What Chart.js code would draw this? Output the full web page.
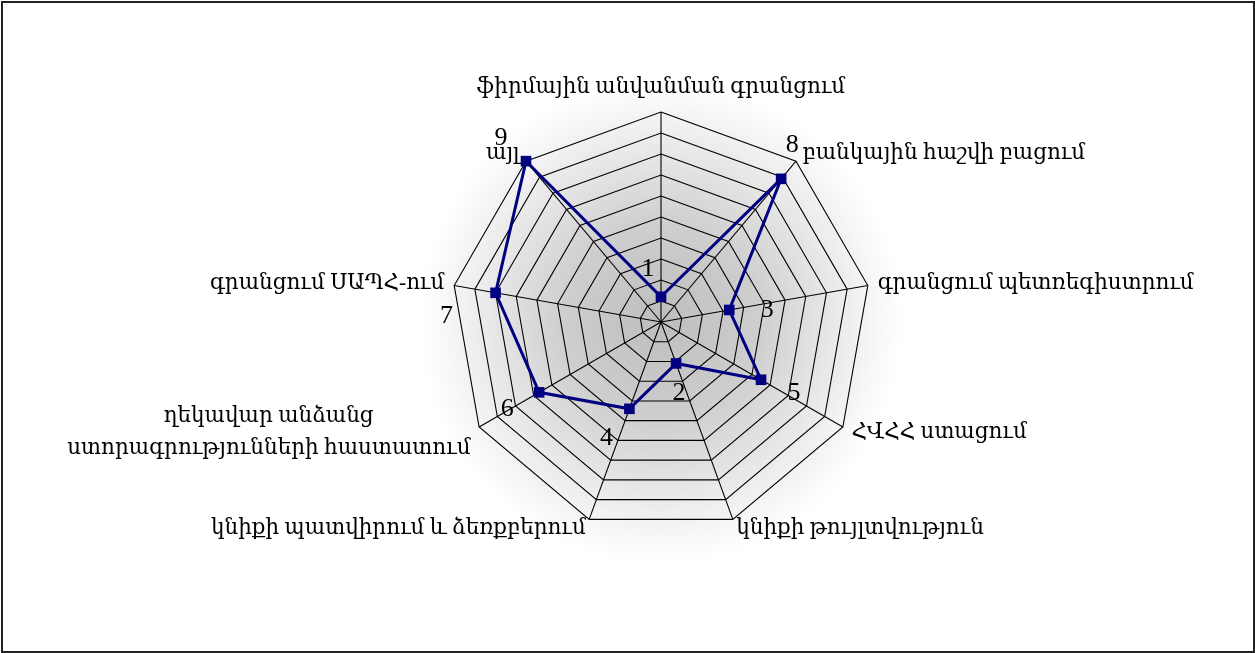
<!DOCTYPE html>
<html>
<head>
<meta charset="utf-8">
<script src="https://cdn.jsdelivr.net/npm/chart.js@4"></script>
<style>
  html, body { margin: 0; padding: 0; background: #fff; }
  #wrap { position: relative; width: 1255px; height: 653px; }
</style>
</head>
<body>
<div id="wrap"><canvas id="radar"></canvas></div>
<script>
// --- DATA ---
const categories = [
  'ֆիրմային անվանման գրանցում',
  'բանկային հաշվի բացում',
  'գրանցում պետռեգիստրում',
  'ՀՎՀՀ ստացում',
  'կնիքի թույլտվություն',
  'կնիքի պատվիրում և ձեռքբերում',
  ['ղեկավար անձանց', 'ստորագրությունների հաստատում'],
  'գրանցում ՍԱՊՀ-ում',
  'այլ'
];
const values = [1.2, 8.9, 3.3, 5.5, 2.1, 4.4, 6.7, 8.0, 10];
const ranks = ['1', '8', '3', '5', '2', '4', '6', '7', '9'];

// --- STYLE ---
const FONT = '"Liberation Serif", "DejaVu Serif", serif';
const NAVY = '#000080';
// where each rank number sits relative to its marker
const rankNudge = [[-13, -28], [11, -34], [38, 0], [33, 13], [3, 30], [-23, 29], [-32, 17], [-49, 23], [-25, -23]];

const backdrop = {
  id: 'backdrop',
  beforeDraw(chart) {
    const { ctx, width, height } = chart;
    const r = chart.scales.r;
    ctx.save();
    ctx.fillStyle = '#fff';
    ctx.fillRect(0, 0, width, height);
    const R = r.drawingArea * 1.15;
    const g = ctx.createRadialGradient(r.xCenter, r.yCenter, 0, r.xCenter, r.yCenter, R);
    g.addColorStop(0, '#bdbdbd');
    g.addColorStop(0.4, '#cecece');
    g.addColorStop(0.72, '#e9e9e9');
    g.addColorStop(0.9, '#f8f8f8');
    g.addColorStop(1, '#ffffff');
    ctx.fillStyle = g;
    ctx.beginPath();
    ctx.arc(r.xCenter, r.yCenter, R, 0, Math.PI * 2);
    ctx.fill();
    ctx.restore();
  },
  afterDraw(chart) {
    const { ctx, width, height } = chart;
    ctx.save();
    ctx.strokeStyle = '#222';
    ctx.lineWidth = 2;
    ctx.strokeRect(2, 2, width - 3, height - 3);
    ctx.restore();
  }
};

const labelsPlugin = {
  id: 'radarLabels',
  afterDatasetsDraw(chart) {
    const { ctx } = chart;
    const r = chart.scales.r;
    ctx.save();
    ctx.fillStyle = '#000';
    ctx.font = '21.5px ' + FONT;

    // category names around the web
    categories.forEach((txt, i) => {
      const deg = (360 / categories.length) * i;
      const lines = Array.isArray(txt) ? txt : [txt];
      if (deg === 0) {
        const p = r.getPointPosition(i, r.drawingArea + 14);
        ctx.textAlign = 'center';
        ctx.textBaseline = 'bottom';
        ctx.fillText(lines[0], p.x, p.y);
        return;
      }
      const p = r.getPointPosition(i, r.drawingArea + 10);
      ctx.textBaseline = 'middle';
      const lh = 32;
      const widest = Math.max(...lines.map(l => ctx.measureText(l).width));
      lines.forEach((l, k) => {
        const y = p.y + (k - (lines.length - 1) / 2) * lh;
        if (lines.length > 1) {
          ctx.textAlign = 'center';
          const cx = deg < 180 ? p.x + widest / 2 : p.x - widest / 2;
          ctx.fillText(l, cx, y);
        } else {
          ctx.textAlign = deg < 180 ? 'left' : 'right';
          ctx.fillText(l, p.x, y);
        }
      });
    });

    // rank numbers next to markers
    const meta = chart.getDatasetMeta(0);
    ctx.font = '26px ' + FONT;
    ctx.textAlign = 'center';
    ctx.textBaseline = 'middle';
    meta.data.forEach((pt, i) => {
      const [dx, dy] = rankNudge[i];
      ctx.fillText(ranks[i], pt.x + dx, pt.y + dy);
    });
    ctx.restore();
  }
};

new Chart(document.getElementById('radar'), {
  type: 'radar',
  data: {
    labels: categories,
    datasets: [{
      data: values,
      borderColor: NAVY,
      borderWidth: 3,
      backgroundColor: 'rgba(0,0,0,0)',
      fill: false,
      pointStyle: 'rect',
      pointRadius: 7.5,
      pointBackgroundColor: NAVY,
      pointBorderColor: NAVY,
      pointBorderWidth: 0,
      tension: 0,
      clip: false
    }]
  },
  options: {
    responsive: true,
    maintainAspectRatio: false,
    animation: false,
    events: [],
    layout: { padding: { left: 451, right: 384, top: 112, bottom: 121 } },
    plugins: { legend: { display: false }, tooltip: { enabled: false } },
    scales: {
      r: {
        min: 0,
        max: 10,
        ticks: { stepSize: 1, display: false },
        grid: { color: '#000', lineWidth: 1.1, circular: false },
        angleLines: { color: '#000', lineWidth: 1.1 },
        pointLabels: { display: false }
      }
    }
  },
  plugins: [backdrop, labelsPlugin]
});
</script>
</body>
</html>
